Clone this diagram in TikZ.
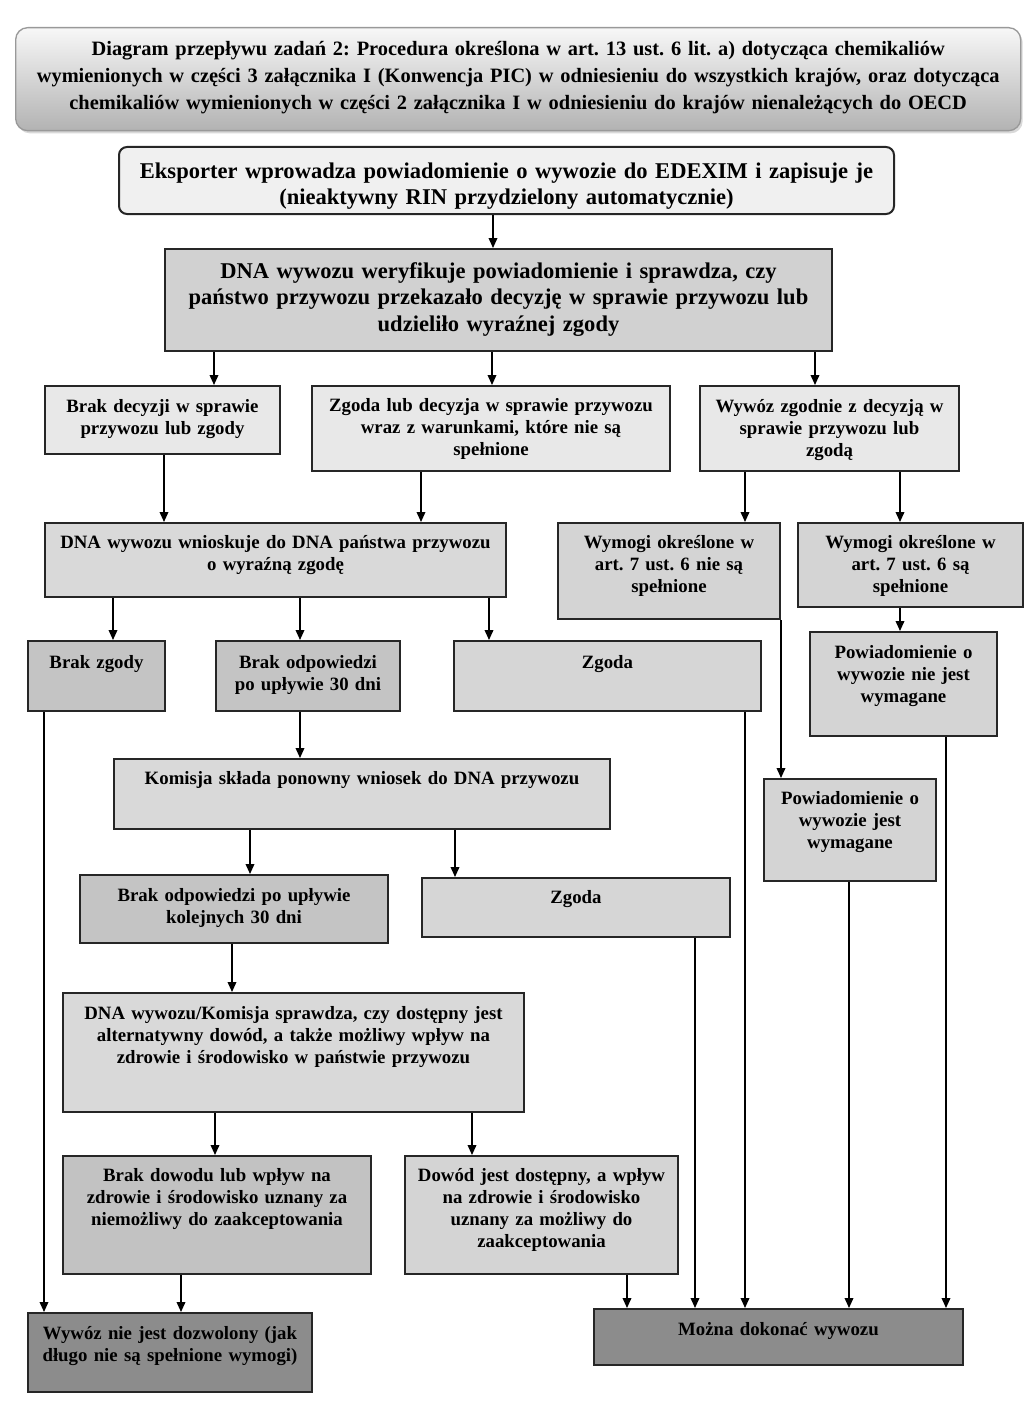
\documentclass[tikz,border=0pt]{standalone}
\usepackage{fontspec}
\setmainfont{Liberation Serif}
\usetikzlibrary{arrows.meta,shadows}
\frenchspacing
\newcommand\ftitle{\fontsize{15.3}{20.25}\selectfont\bfseries\frenchspacing}
\newcommand\fbig{\fontsize{16.9}{19.9}\selectfont\bfseries\frenchspacing}
\newcommand\fsmall{\fontsize{14.1}{16.5}\selectfont\bfseries\frenchspacing}
% name, x1, y1, x2, y2, style, baseline offset, font, text
\newcommand\bx[9]{%
  \pgfmathsetmacro\bxw{(#4-#2)*0.75}%
  \pgfmathsetmacro\bxh{#7*0.75}%
  \pgfmathsetmacro\bxd{(#5-#3-#7)*0.75}%
  \node[#6, anchor=north west, inner sep=0pt, minimum width=\bxw pt,
        text width=\bxw pt, align=center, font=#8, text height=\bxh pt, text depth=\bxd pt]
        (#1) at (#2,#3) {#9};}
\begin{document}
\begin{tikzpicture}[x=0.75pt,y=-0.75pt,
  box/.style={draw=black!85, line width=1.5pt},
  rbox/.style={box, rounded corners=6pt},
  tbox/.style={draw=black!40, line width=1pt, rounded corners=9pt,
     top color=black!3, bottom color=black!30,
     drop shadow={shadow xshift=1.5pt, shadow yshift=-2pt, fill=black!25, opacity=0.6}},
  arr/.style={draw=black, line width=1.1pt, -{Triangle[length=7.5pt,width=6.5pt]}},
  ln/.style={draw=black, line width=1.1pt}]
\useasboundingbox (0,0) rectangle (1024,1409);

\bx{title}{15}{27}{1020}{130}{tbox}{28}{\ftitle}{Diagram przepływu zadań 2: Procedura określona w art. 13 ust. 6 lit. a) dotycząca chemikaliów\\ wymienionych w części 3 załącznika I (Konwencja PIC) w odniesieniu do wszystkich krajów, oraz dotycząca\\ chemikaliów wymienionych w części 2 załącznika I w odniesieniu do krajów nienależących do OECD}

\bx{b1}{118}{146}{893}{213}{rbox, fill=black!6}{31}{\fbig}{Eksporter wprowadza powiadomienie o wywozie do EDEXIM i zapisuje je\\ (nieaktywny RIN przydzielony automatycznie)}
\bx{b2}{164}{248}{831}{350}{box, fill=black!18}{29}{\fbig}{DNA wywozu weryfikuje powiadomienie i sprawdza, czy\\ państwo przywozu przekazało decyzję w sprawie przywozu lub\\ udzieliło wyraźnej zgody}

\bx{b3a}{44}{385}{279}{453}{box, fill=black!9}{26}{\fsmall}{Brak decyzji w sprawie\\ przywozu lub zgody}
\bx{b3b}{311}{385}{669}{470}{box, fill=black!9}{25}{\fsmall}{Zgoda lub decyzja w sprawie przywozu\\ wraz z warunkami, które nie są\\ spełnione}
\bx{b3c}{699}{385}{958}{470}{box, fill=black!9}{26}{\fsmall}{Wywóz zgodnie z decyzją w\\ sprawie przywozu lub\\ zgodą}

\bx{b4}{44}{522}{505}{596}{box, fill=black!15}{25}{\fsmall}{DNA wywozu wnioskuje do DNA państwa przywozu\\ o wyraźną zgodę}
\bx{w1}{557}{522}{779}{618}{box, fill=black!17}{25}{\fsmall}{Wymogi określone w\\ art. 7 ust. 6 nie są\\ spełnione}
\bx{w2}{797}{522}{1022}{606}{box, fill=black!17}{25}{\fsmall}{Wymogi określone w\\ art. 7 ust. 6 są\\ spełnione}
\bx{pn}{809}{631}{996}{735}{box, fill=black!17}{26}{\fsmall}{Powiadomienie o\\ wywozie nie jest\\ wymagane}

\bx{bz}{27}{640}{164}{710}{box, fill=black!23}{27}{\fsmall}{Brak zgody}
\bx{bo}{215}{640}{399}{710}{box, fill=black!23}{27}{\fsmall}{Brak odpowiedzi\\ po upływie 30 dni}
\bx{z1}{453}{640}{760}{710}{box, fill=black!16}{27}{\fsmall}{Zgoda}
\bx{pj}{763}{778}{935}{880}{box, fill=black!17}{25}{\fsmall}{Powiadomienie o\\ wywozie jest\\ wymagane}

\bx{km}{113}{758}{609}{828}{box, fill=black!15}{25}{\fsmall}{Komisja składa ponowny wniosek do DNA przywozu}
\bx{bo2}{79}{874}{387}{942}{box, fill=black!23}{26}{\fsmall}{Brak odpowiedzi po upływie\\ kolejnych 30 dni}
\bx{z2}{421}{877}{729}{936}{box, fill=black!16}{25}{\fsmall}{Zgoda}

\bx{d2}{62}{992}{523}{1111}{box, fill=black!15}{26}{\fsmall}{DNA wywozu/Komisja sprawdza, czy dostępny jest\\ alternatywny dowód, a także możliwy wpływ na\\ zdrowie i środowisko w państwie przywozu}
\bx{bd}{62}{1155}{370}{1273}{box, fill=black!24}{25}{\fsmall}{Brak dowodu lub wpływ na\\ zdrowie i środowisko uznany za\\ niemożliwy do zaakceptowania}
\bx{dw}{404}{1155}{677}{1273}{box, fill=black!17}{25}{\fsmall}{Dowód jest dostępny, a wpływ\\ na zdrowie i środowisko\\ uznany za możliwy do\\ zaakceptowania}

\bx{na}{27}{1312}{311}{1391}{box, fill=black!45}{26}{\fsmall}{Wywóz nie jest dozwolony (jak\\ długo nie są spełnione wymogi)}
\bx{mz}{593}{1308}{962}{1364}{box, fill=black!45}{26}{\fsmall}{Można dokonać wywozu}

% connectors
\draw[arr] (b1.south -| 493,0) -- (b2.north -| 493,0);
\draw[arr] (b2.south -| 214,0) -- (b3a.north -| 214,0);
\draw[arr] (b2.south -| 492,0) -- (b3b.north -| 492,0);
\draw[arr] (b2.south -| 815,0) -- (b3c.north -| 815,0);
\draw[arr] (b3a.south -| 164,0) -- (b4.north -| 164,0);
\draw[arr] (b3b.south -| 421,0) -- (b4.north -| 421,0);
\draw[arr] (b3c.south -| 745,0) -- (w1.north -| 745,0);
\draw[arr] (b3c.south -| 900,0) -- (w2.north -| 900,0);
\draw[arr] (w2.south -| 900,0) -- (pn.north -| 900,0);
\draw[arr] (b4.south -| 113,0) -- (bz.north -| 113,0);
\draw[arr] (b4.south -| 300,0) -- (bo.north -| 300,0);
\draw[arr] (b4.south -| 489,0) -- (z1.north -| 489,0);
\draw[arr] (w1.south east) -- (w1.south east |- pj.north);
\draw[arr] (bo.south -| 300,0) -- (km.north -| 300,0);
\draw[arr] (km.south -| 250,0) -- (bo2.north -| 250,0);
\draw[arr] (km.south -| 455,0) -- (z2.north -| 455,0);
\draw[arr] (bo2.south -| 232,0) -- (d2.north -| 232,0);
\draw[arr] (d2.south -| 215,0) -- (bd.north -| 215,0);
\draw[arr] (d2.south -| 472,0) -- (dw.north -| 472,0);
\draw[arr] (bz.south -| 44,0) -- (na.north -| 44,0);
\draw[arr] (bd.south -| 181,0) -- (na.north -| 181,0);
\draw[arr] (dw.south -| 627,0) -- (mz.north -| 627,0);
\draw[arr] (z2.south -| 695,0) -- (mz.north -| 695,0);
\draw[arr] (z1.south -| 745,0) -- (mz.north -| 745,0);
\draw[arr] (pj.south -| 849,0) -- (mz.north -| 849,0);
\draw[arr] (pn.south -| 946,0) -- (mz.north -| 946,0);
\end{tikzpicture}
\end{document}
